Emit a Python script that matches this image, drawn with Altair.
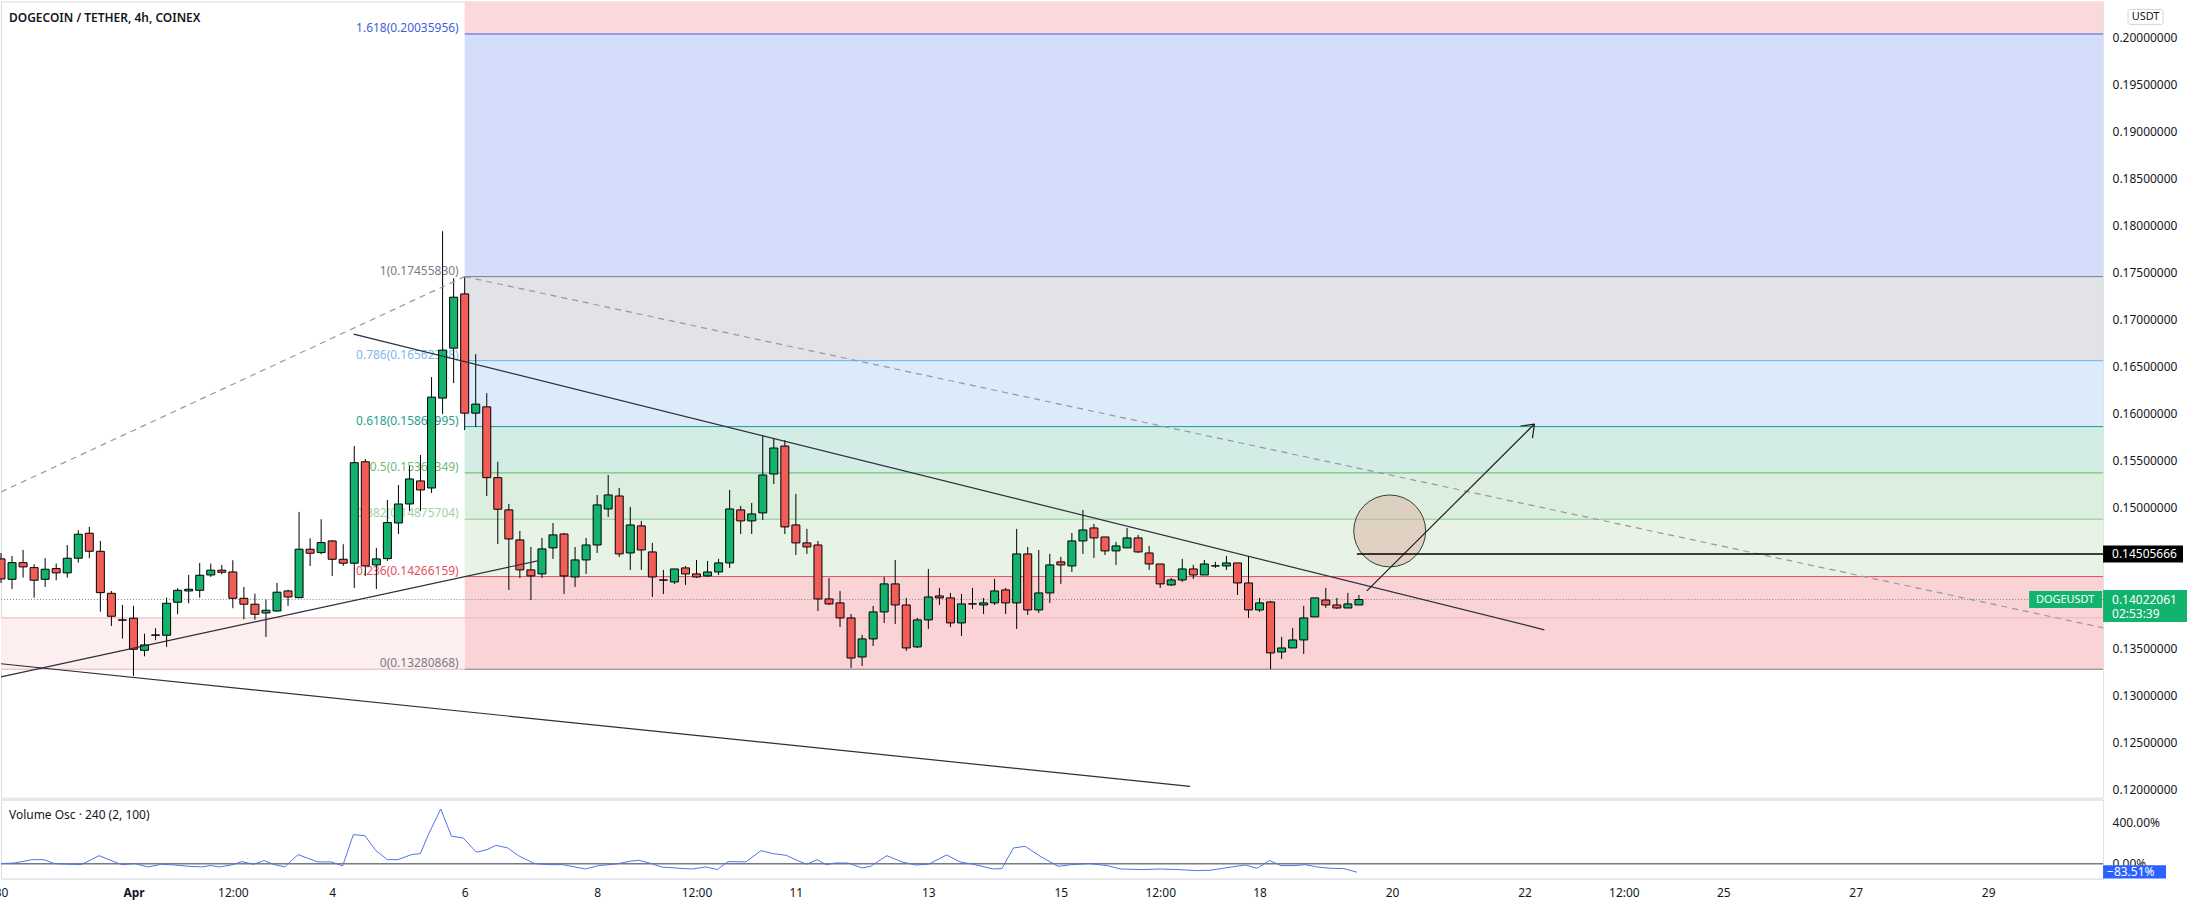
import altair as alt
import pandas as pd

# ---------------- data ----------------
# 4h candles starting Mar 30 00:00 (day 0)
OPEN = [
0.14454, 0.14237, 0.14414, 0.14361, 0.14237, 0.14351, 0.14305, 0.14461, 0.14727, 0.14535,
0.14088, 0.13805, 0.13823, 0.13482, 0.13642, 0.13642, 0.13993, 0.14113, 0.14120, 0.14283,
0.14334, 0.14315, 0.14035, 0.13972, 0.13879, 0.13900, 0.14113, 0.14042, 0.14557, 0.14521,
0.14645, 0.14450, 0.14408, 0.15487, 0.14390, 0.14457, 0.14836, 0.15038, 0.15283, 0.15208,
0.16164, 0.16695, 0.17272, 0.16004, 0.16071, 0.15318, 0.14975, 0.14656, 0.14337, 0.14294,
0.14571, 0.14719, 0.14262, 0.14443, 0.14602, 0.14985, 0.15123, 0.14517, 0.14805, 0.14528,
0.14230, 0.14209, 0.14358, 0.14294, 0.14273, 0.14315, 0.14411, 0.14975, 0.14858, 0.14943,
0.15357, 0.15654, 0.14815, 0.14624, 0.14602, 0.14028, 0.13986, 0.13826, 0.13411, 0.13603,
0.13890, 0.14188, 0.13964, 0.13518, 0.13805, 0.14060, 0.14039, 0.13773, 0.13976, 0.13964,
0.13986, 0.14124, 0.13986, 0.14507, 0.13911, 0.14092, 0.14422, 0.14379, 0.14645, 0.14783,
0.14687, 0.14539, 0.14571, 0.14677, 0.14517, 0.14400, 0.14177, 0.14230, 0.14347, 0.14283,
0.14380, 0.14379, 0.14411, 0.14198, 0.13911, 0.13996, 0.13464, 0.13507, 0.13592, 0.13837,
0.14017, 0.13964, 0.13932, 0.13964]
HIGH = [
0.14517, 0.14486, 0.14549, 0.14397, 0.14461, 0.14404, 0.14602, 0.14759, 0.14794, 0.14645,
0.14113, 0.13964, 0.13954, 0.13659, 0.13717, 0.14042, 0.14142, 0.14283, 0.14411, 0.14404,
0.14390, 0.14440, 0.14156, 0.14084, 0.14021, 0.14198, 0.14127, 0.14954, 0.14673, 0.14876,
0.14652, 0.14610, 0.15654, 0.15516, 0.14571, 0.15081, 0.15240, 0.15442, 0.15559, 0.16387,
0.17939, 0.17439, 0.17456, 0.16631, 0.16217, 0.15487, 0.15038, 0.14751, 0.14581, 0.14677,
0.14836, 0.14730, 0.14581, 0.14677, 0.15134, 0.15346, 0.15208, 0.15007, 0.14858, 0.14624,
0.14337, 0.14347, 0.14379, 0.14443, 0.14432, 0.14454, 0.15187, 0.15017, 0.15049, 0.15771,
0.15739, 0.15718, 0.15145, 0.14773, 0.14645, 0.14251, 0.14113, 0.13868, 0.13645, 0.13954,
0.14262, 0.14443, 0.14039, 0.13826, 0.14347, 0.14145, 0.14092, 0.14081, 0.14145, 0.14039,
0.14241, 0.14145, 0.14773, 0.14581, 0.14549, 0.14507, 0.14475, 0.14730, 0.14975, 0.14826,
0.14687, 0.14634, 0.14783, 0.14709, 0.14592, 0.14400, 0.14251, 0.14454, 0.14390, 0.14443,
0.14422, 0.14486, 0.14411, 0.14486, 0.14039, 0.14007, 0.13624, 0.13720, 0.13954, 0.14039,
0.14145, 0.14039, 0.14092, 0.14071]
LOW = [
0.14198, 0.14134, 0.14255, 0.14042, 0.14156, 0.14227, 0.14255, 0.14414, 0.14461, 0.13893,
0.13741, 0.13606, 0.13209, 0.13418, 0.13589, 0.13518, 0.13865, 0.13982, 0.14042, 0.14262,
0.14291, 0.13929, 0.13812, 0.13808, 0.13624, 0.13893, 0.13954, 0.14035, 0.14379, 0.14503,
0.14273, 0.14379, 0.14145, 0.14273, 0.14134, 0.14432, 0.14719, 0.14964, 0.14964, 0.15155,
0.15994, 0.16323, 0.15824, 0.15856, 0.15123, 0.14613, 0.14124, 0.14251, 0.14017, 0.14251,
0.14454, 0.14081, 0.14156, 0.14294, 0.14517, 0.14900, 0.14475, 0.14337, 0.14337, 0.14049,
0.14081, 0.14188, 0.14177, 0.14251, 0.14262, 0.14283, 0.14358, 0.14719, 0.14719, 0.14868,
0.15251, 0.14719, 0.14496, 0.14507, 0.13900, 0.13964, 0.13730, 0.13294, 0.13315, 0.13528,
0.13773, 0.13762, 0.13475, 0.13507, 0.13709, 0.13964, 0.13730, 0.13635, 0.13922, 0.13868,
0.13964, 0.13868, 0.13709, 0.13858, 0.13879, 0.13986, 0.14188, 0.14315, 0.14507, 0.14464,
0.14496, 0.14390, 0.14571, 0.14517, 0.14337, 0.14145, 0.14166, 0.14209, 0.14241, 0.14283,
0.14358, 0.14337, 0.14071, 0.13826, 0.13890, 0.13281, 0.13390, 0.13507, 0.13443, 0.13837,
0.13932, 0.13922, 0.13932, 0.13964]
CLOSE = [
0.14241, 0.14414, 0.14369, 0.14227, 0.14344, 0.14305, 0.14461, 0.14716, 0.14535, 0.14095,
0.13844, 0.13802, 0.13493, 0.13539, 0.13645, 0.13982, 0.14120, 0.14131, 0.14280, 0.14334,
0.14312, 0.14035, 0.13972, 0.13865, 0.13908, 0.14100, 0.14049, 0.14557, 0.14514, 0.14627,
0.14450, 0.14408, 0.15477, 0.14379, 0.14454, 0.14840, 0.15038, 0.15304, 0.15187, 0.16174,
0.16674, 0.17237, 0.16004, 0.16100, 0.15318, 0.14982, 0.14666, 0.14337, 0.14273, 0.14560,
0.14709, 0.14273, 0.14443, 0.14602, 0.15028, 0.15134, 0.14507, 0.14815, 0.14549, 0.14262,
0.14228, 0.14347, 0.14294, 0.14262, 0.14315, 0.14411, 0.14985, 0.14858, 0.14932, 0.15346,
0.15633, 0.14794, 0.14624, 0.14581, 0.14028, 0.13975, 0.13826, 0.13400, 0.13603, 0.13890,
0.14188, 0.13964, 0.13507, 0.13805, 0.14049, 0.14039, 0.13773, 0.13975, 0.13975, 0.13986,
0.14113, 0.13986, 0.14507, 0.13911, 0.14092, 0.14390, 0.14390, 0.14645, 0.14762, 0.14677,
0.14539, 0.14592, 0.14677, 0.14528, 0.14400, 0.14188, 0.14230, 0.14347, 0.14283, 0.14400,
0.14379, 0.14411, 0.14198, 0.13911, 0.13986, 0.13454, 0.13507, 0.13592, 0.13826, 0.14039,
0.13964, 0.13932, 0.13975, 0.14022061]
BAR_HOURS = 4

# Fibonacci retracement
FIB_RATIO_TXT = ["0", "0.236", "0.382", "0.5", "0.618", "0.786", "1", "1.618"]
FIB_PRICE = [0.13280868, 0.14266159, 0.14875704, 0.15368349, 0.15860995, 0.16562388, 0.17455830, 0.20035956]
FIB_LINE_COL = ["#787b86", "#e5505c", "#8ccb8f", "#5cb860", "#159f89", "#64b5f6", "#787b86", "#3f5fd8"]
FIB_TEXT_COL = ["#787b86", "#e5505c", "#a3cfa5", "#6dba70", "#2a9d8f", "#7db8ee", "#787b86", "#3f5fd8"]
FIB_ZONE_COL = ["#fad3d6", "#e6f3e5", "#dcefdf", "#d3ece6", "#dcebfa", "#e2e3e6", "#d4defb", "#fbd8db"]
FIB_START_DAY = 7.0

# Trend lines (day, price)
SOLID_X1 = [0.0, 0.0, 5.324]
SOLID_Y1 = [0.13339, 0.13200, 0.16844]
SOLID_X2 = [17.95, 8.10, 23.30]
SOLID_Y2 = [0.12035, 0.14433, 0.13700]
DASH_X1 = [0.0, 7.0]
DASH_Y1 = [0.15166, 0.1745583]
DASH_X2 = [7.0, 31.735]
DASH_Y2 = [0.1745583, 0.13721]
ARROW_X1 = [20.62, 23.15, 23.15]
ARROW_Y1 = [0.14114, 0.15888, 0.15888]
ARROW_X2 = [23.15, 22.94, 23.12]
ARROW_Y2 = [0.15888, 0.15867, 0.15739]
CIRCLE_DAY, CIRCLE_PRICE = 20.965, 0.14751
LEVEL_PRICE, LEVEL_START = 0.14505666, 20.47
CUR_PRICE = 0.14022061
PINK_PRICE = 0.13827

# Volume oscillator (day, %)
OSC_DAY = [0, 0.202, 0.471, 0.646, 0.808, 1.212, 1.481, 1.818, 2.020, 2.222,
2.424, 2.626, 2.828, 3.030, 3.165, 3.299, 3.501, 3.636, 3.811, 3.973,
4.107, 4.283, 4.485, 4.781, 4.983, 5.158, 5.319, 5.494, 5.656, 5.831,
5.993, 6.195, 6.330, 6.464, 6.639, 6.801, 6.976, 7.178, 7.339, 7.474,
7.649, 7.811, 8.053, 8.282, 8.484, 8.821, 9.023, 9.292, 9.494, 9.629,
9.790, 9.966, 10.235, 10.437, 10.639, 10.814, 10.976, 11.245, 11.474, 11.649,
11.851, 12.026, 12.161, 12.322, 12.457, 12.592, 12.794, 12.996, 13.130, 13.373,
13.602, 13.804, 14.006, 14.275, 14.477, 14.706, 14.975, 15.110, 15.285, 15.460,
15.689, 15.958, 16.160, 16.430, 16.699, 16.901, 17.238, 17.507, 17.776, 18.046,
18.248, 18.450, 18.786, 18.962, 19.150, 19.325, 19.527, 19.689, 19.864, 20.066,
20.268, 20.470]
OSC_VAL = [0, 6, 39, 39, 0, -10, 78, -10, 0, -32,
-6, -13, -26, -32, -19, -32, -10, 20, -6, 30,
-6, -32, 88, 17, 17, -22, 283, 273, 130, 39,
39, 88, 98, 300, 533, 267, 251, 111, 137, 179,
153, 78, 0, -10, -10, -52, -19, -3, 23, 33,
6, -32, -45, -52, -32, -58, 20, 17, 127, 98,
82, 30, -6, 39, -10, 6, 6, -42, -26, 78,
17, -13, -6, 85, 17, -10, -52, -48, 153, 169,
72, -26, -10, 0, -19, -52, -58, -52, -58, -68,
-65, -45, -13, -45, 30, -19, -19, -10, -32, -45,
-48, -83.51]

X_TICKS = [0, 2, 3.5, 5, 7, 9, 10.5, 12, 14, 16, 17.5, 19, 21, 23, 24.5, 26, 28, 30]
X_LABELS = ["30", "Apr", "12:00", "4", "6", "8", "12:00", "11", "13", "15", "12:00", "18", "20", "22", "12:00", "25", "27", "29"]
Y_TICKS = [round(0.12 + 0.005 * i, 3) for i in range(17)]
OSC_TICKS = [0, 400]

# ---------------- layout constants ----------------
PX_PER_DAY = 66.3
PLOT_W = 2104
MAIN_H = 797
OSC_H = 79
X_MAX = PLOT_W / PX_PER_DAY
P_TOP, P_BOT = 0.203825, 0.119146
PPX = (P_TOP - P_BOT) / MAIN_H   # price per pixel
OSC_TOP, OSC_BOT = 624, -146
OPX = (OSC_TOP - OSC_BOT) / OSC_H

FONT = "Noto Sans"
TXT = "#131722"
GREEN = "#12b36d"
RED = "#f25e57"
GRID = "#e0e3eb"

XS = alt.Scale(domain=[0, X_MAX], nice=False, zero=False)
YS = alt.Scale(domain=[P_BOT, P_TOP], nice=False, zero=False)
OS = alt.Scale(domain=[OSC_BOT, OSC_TOP], nice=False, zero=False)

YAX = alt.Axis(orient="right", values=Y_TICKS, format=".8f", ticks=False, domainColor=GRID,
               labelFont=FONT, labelFontSize=12, labelColor=TXT, labelPadding=9, title=None,
               grid=False, labelOverlap=False)
label_expr = ("[" + ",".join("'%s'" % s for s in X_LABELS) + "][indexof(["
              + ",".join(str(v) for v in X_TICKS) + "], datum.value)]")
XAX = alt.Axis(values=X_TICKS, labelExpr=label_expr, ticks=False, domainColor=GRID,
               labelFont=FONT, labelFontSize=12, labelColor=TXT, labelPadding=9, title=None,
               grid=False, labelOverlap=False, labelFlush=False,
               labelFontWeight={"condition": {"test": "datum.value == 2", "value": "bold"}, "value": "normal"})
OAX = alt.Axis(orient="right", values=OSC_TICKS, labelExpr="format(datum.value, '.2f') + '%'",
               ticks=False, domainColor=GRID, labelFont=FONT, labelFontSize=12, labelColor=TXT,
               labelPadding=9, title=None, grid=False, labelOverlap=False)


def X(f):
    return alt.X(f + ":Q", scale=XS, axis=None)


def Y(f):
    return alt.Y(f + ":Q", scale=YS, axis=YAX)


def XO(f):
    return alt.X(f + ":Q", scale=XS, axis=XAX)


def YO(f):
    return alt.Y(f + ":Q", scale=OS, axis=OAX)


# ---------------- main panel ----------------
n = len(OPEN)
candles = pd.DataFrame({"day": [i * BAR_HOURS / 24 for i in range(n)],
                        "open": OPEN, "high": HIGH, "low": LOW, "close": CLOSE})
candles["dir"] = ["up" if c >= o else "down" for o, c in zip(OPEN, CLOSE)]
half = 4 / PX_PER_DAY
candles["x0"] = candles["day"] - half
candles["x1"] = candles["day"] + half

zone_hi = FIB_PRICE[1:] + [P_TOP]
zones = pd.DataFrame({"x0": [FIB_START_DAY] * 8, "x1": [X_MAX] * 8, "lo": FIB_PRICE,
                      "hi": zone_hi, "col": FIB_ZONE_COL})
fib = pd.DataFrame({"x0": [FIB_START_DAY] * 8, "x1": [X_MAX] * 8, "p": FIB_PRICE,
                    "lc": FIB_LINE_COL, "tc": FIB_TEXT_COL,
                    "label": ["%s(%.8f)" % (r, p) for r, p in zip(FIB_RATIO_TXT, FIB_PRICE)],
                    "lx": [FIB_START_DAY - 6 / PX_PER_DAY] * 8})

layers = []
layers.append(alt.Chart(zones).mark_rect().encode(
    x=X("x0"), x2="x1", y=Y("lo"), y2="hi", color=alt.Color("col:N", scale=None)))
left_rect = pd.DataFrame({"x0": [0.0], "x1": [FIB_START_DAY], "lo": [FIB_PRICE[0]], "hi": [PINK_PRICE]})
layers.append(alt.Chart(left_rect).mark_rect(color="#fdeeef").encode(
    x=X("x0"), x2="x1", y=Y("lo"), y2="hi"))
hlines = pd.DataFrame({"x0": [0.0, 0.0], "x1": [X_MAX, FIB_START_DAY], "p": [PINK_PRICE, FIB_PRICE[0]]})
layers.append(alt.Chart(hlines).mark_rule(color="#eeb3b7", strokeWidth=1).encode(
    x=X("x0"), x2="x1", y=Y("p")))
layers.append(alt.Chart(fib).mark_rule(strokeWidth=1).encode(
    x=X("x0"), x2="x1", y=Y("p"), color=alt.Color("lc:N", scale=None)))
layers.append(alt.Chart(fib).mark_text(align="right", baseline="middle", dy=-6, font=FONT, fontSize=12).encode(
    x=X("lx"), y=Y("p"), text="label:N", color=alt.Color("tc:N", scale=None)))
cur = pd.DataFrame({"x0": [0.0], "x1": [X_MAX], "p": [CUR_PRICE]})
layers.append(alt.Chart(cur).mark_rule(color="#7a8a84", strokeWidth=1, strokeDash=[1, 2]).encode(
    x=X("x0"), x2="x1", y=Y("p")))
circ = pd.DataFrame({"d": [CIRCLE_DAY], "p": [CIRCLE_PRICE]})
layers.append(alt.Chart(circ).mark_point(shape="circle", size=72 * 72, filled=True, fill="#d9a99a",
                                         fillOpacity=0.45, stroke="#3a3a3a", strokeWidth=1,
                                         strokeOpacity=1, opacity=1).encode(x=X("d"), y=Y("p")))
# candles
layers.append(alt.Chart(candles).mark_rule(color="#000000", strokeWidth=1).encode(
    x=X("day"), y=Y("low"), y2="high"))
layers.append(alt.Chart(candles).mark_rect(stroke="#000000", strokeWidth=1).encode(
    x=X("x0"), x2="x1", y=Y("open"), y2="close",
    color=alt.Color("dir:N", scale=alt.Scale(domain=["up", "down"], range=[GREEN, RED]), legend=None)))
# drawings
solid = pd.DataFrame({"x0": SOLID_X1, "p0": SOLID_Y1, "x1": SOLID_X2, "p1": SOLID_Y2})
layers.append(alt.Chart(solid).mark_rule(color="#2b2f3a", strokeWidth=1.2).encode(
    x=X("x0"), x2="x1", y=Y("p0"), y2="p1"))
dash = pd.DataFrame({"x0": DASH_X1, "p0": DASH_Y1, "x1": DASH_X2, "p1": DASH_Y2})
layers.append(alt.Chart(dash).mark_rule(color="#9598a1", strokeWidth=1.2, strokeDash=[6, 5]).encode(
    x=X("x0"), x2="x1", y=Y("p0"), y2="p1"))
arrow = pd.DataFrame({"x0": ARROW_X1, "p0": ARROW_Y1, "x1": ARROW_X2, "p1": ARROW_Y2})
layers.append(alt.Chart(arrow).mark_rule(color="#1e1e1e", strokeWidth=1.2).encode(
    x=X("x0"), x2="x1", y=Y("p0"), y2="p1"))
lvl = pd.DataFrame({"x0": [LEVEL_START], "x1": [X_MAX], "p": [LEVEL_PRICE]})
layers.append(alt.Chart(lvl).mark_rule(color="#000000", strokeWidth=1.5).encode(
    x=X("x0"), x2="x1", y=Y("p")))

# right-hand price labels
def box(p_top, p_bot, px0, px1, fill, stroke=None):
    df = pd.DataFrame({"t": [p_top], "b": [p_bot]})
    kw = dict(color=fill)
    if stroke:
        kw.update(stroke=stroke, strokeWidth=1, cornerRadius=2)
    return alt.Chart(df).mark_rect(**kw).encode(
        x=alt.value(px0), x2=alt.value(px1), y=Y("t"), y2="b")


def label(p, px, text, color, size=12, align="left", weight="normal"):
    df = pd.DataFrame({"p": [p], "t": [text]})
    return alt.Chart(df).mark_text(align=align, baseline="middle", font=FONT, fontSize=size,
                                   color=color, fontWeight=weight).encode(
        x=alt.value(px), y=Y("p"), text="t:N")


layers.append(box(LEVEL_PRICE + 8.5 * PPX, LEVEL_PRICE - 8.5 * PPX, 2104, 2184, "#000000"))
layers.append(label(LEVEL_PRICE, 2113, "%.8f" % LEVEL_PRICE, "#ffffff"))
layers.append(box(CUR_PRICE + 9.5 * PPX, CUR_PRICE - 22.5 * PPX, 2104, 2188, GREEN))
layers.append(label(CUR_PRICE, 2113, "%.8f" % CUR_PRICE, "#ffffff"))
layers.append(label(CUR_PRICE - 15 * PPX, 2113, "02:53:39", "#ffffff"))
layers.append(box(CUR_PRICE + 8.5 * PPX, CUR_PRICE - 8.5 * PPX, 2030, 2103, GREEN))
layers.append(label(CUR_PRICE, 2066, "DOGEUSDT", "#ffffff", size=11, align="center"))
layers.append(box(P_TOP - 8 * PPX, P_TOP - 23 * PPX, 2129, 2164, "#ffffff", stroke="#d1d4dc"))
layers.append(label(P_TOP - 15.5 * PPX, 2146.5, "USDT", TXT, size=11, align="center"))
layers.append(label(P_TOP - 17 * PPX, 8, "DOGECOIN / TETHER, 4h, COINEX", TXT, size=12, weight=600))

main = alt.layer(*layers).properties(width=PLOT_W, height=MAIN_H)

# ---------------- oscillator panel ----------------
osc = pd.DataFrame({"day": OSC_DAY, "v": OSC_VAL})
olayers = []
olayers.append(alt.Chart(pd.DataFrame({"z": [0]})).mark_rule(color="#787b86", strokeWidth=1.5).encode(
    y=YO("z")))
olayers.append(alt.Chart(osc).mark_line(color="#4f74e3", strokeWidth=1).encode(x=XO("day"), y=YO("v")))
olayers.append(alt.Chart(pd.DataFrame({"z": [0]})).mark_rule(color=GRID, strokeWidth=1).encode(
    y=alt.value(0)))
olayers.append(alt.Chart(pd.DataFrame({"t": ["Volume Osc · 240 (2, 100)"]})).mark_text(
    align="left", baseline="middle", font=FONT, fontSize=12, color=TXT).encode(
    x=alt.value(8), y=alt.value(15), text="t:N"))
last = OSC_VAL[-1]
olayers.append(alt.Chart(pd.DataFrame({"t": [last + 7 * OPX], "b": [OSC_BOT]})).mark_rect(color="#2962ff").encode(
    x=alt.value(2104), x2=alt.value(2167), y=YO("t"), y2="b"))
olayers.append(alt.Chart(pd.DataFrame({"p": [last], "t": ["\u2212%.2f%%" % abs(last)]})).mark_text(
    align="left", baseline="middle", font=FONT, fontSize=12, color="#ffffff").encode(
    x=alt.value(2108), y=YO("p"), text="t:N"))
oscc = alt.layer(*olayers).properties(width=PLOT_W, height=OSC_H)

chart = alt.vconcat(main, oscc, spacing=0).properties(
    padding={"left": -7, "right": 0, "top": 0, "bottom": 0}
).configure_view(stroke=None).configure(background="#ffffff")

chart.save("out.html", embed_options={"renderer": "svg", "actions": False})
